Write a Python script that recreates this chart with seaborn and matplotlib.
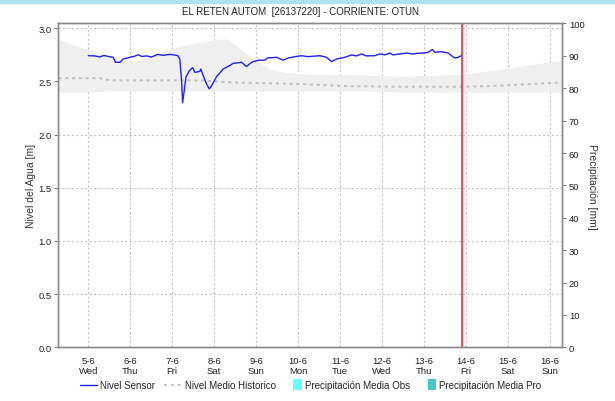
import matplotlib
matplotlib.use("Agg")
import matplotlib.pyplot as plt
from matplotlib.lines import Line2D
from matplotlib.patches import Patch, Rectangle
from matplotlib.legend_handler import HandlerPatch
import seaborn as sns
import pandas as pd

sns.set_theme(style="white")
plt.rcParams['font.family'] = ['Liberation Sans', 'DejaVu Sans']

# Reference instant: 5 June 2024, 00:00 (hours below are counted from here)
inicio = pd.Timestamp("2024-06-05 00:00")

# Nivel Sensor (m)
sensor_horas = [0, 3.8, 6.7, 9, 11.3, 14.3, 15.6, 18.1, 20, 23.8, 26.1, 28.6, 30.7,
                33.4, 36.3, 39.9, 42.7, 46.7, 49.6, 51.3, 52.4, 53.4, 54, 54.9, 55.9,
                57.8, 59.7, 61, 63.9, 64.4, 65.8, 67.7, 69.2, 70.6, 73.4, 77.2, 81,
                82.9, 87.7, 90.6, 93.4, 97.2, 101, 102.4, 107.7, 111.5, 114.4, 118.2,
                122, 125.6, 132.5, 136.3, 139.2, 142, 146.8, 150.6, 153.5, 156.3,
                159.2, 163.9, 166.8, 169.7, 172.5, 174.4, 178.2, 182.1, 185.8, 188.5,
                191.6, 194.4, 196.9, 198.3, 202.1, 205.9, 207.8, 209.7, 211.6, 213.7]
sensor_nivel = [2.742, 2.74, 2.73, 2.745, 2.735, 2.727, 2.68, 2.68, 2.71, 2.727, 2.735,
                2.75, 2.735, 2.74, 2.73, 2.755, 2.745, 2.755, 2.748, 2.742, 2.71, 2.507,
                2.30, 2.41, 2.54, 2.60, 2.63, 2.585, 2.595, 2.617, 2.554, 2.476, 2.43,
                2.46, 2.545, 2.617, 2.65, 2.67, 2.68, 2.64, 2.68, 2.70, 2.70, 2.72,
                2.727, 2.70, 2.72, 2.733, 2.742, 2.733, 2.742, 2.727, 2.686, 2.71,
                2.727, 2.749, 2.74, 2.758, 2.74, 2.742, 2.758, 2.75, 2.767, 2.75,
                2.758, 2.767, 2.758, 2.765, 2.767, 2.774, 2.80, 2.774, 2.78, 2.767,
                2.742, 2.72, 2.727, 2.745]

# Nivel Medio Historico (m)
hist_horas = [-17, 6.7, 12.4, 63.9, 82.7, 121, 149.6, 181, 213.7, 235, 258, 271]
hist_medio = [2.53, 2.53, 2.51, 2.51, 2.49, 2.476, 2.455, 2.45, 2.45, 2.46, 2.48, 2.49]

# Historical envelope (m)
banda_horas = [-17, -8, 0, 12, 21, 29, 46, 52, 64, 77, 80, 87, 94, 103, 112, 121,
               157, 180, 214, 238, 271]
banda_min = [2.40, 2.40, 2.40, 2.41, 2.41, 2.41, 2.41, 2.41, 2.41, 2.41, 2.41, 2.41,
             2.41, 2.41, 2.41, 2.41, 2.41, 2.40, 2.40, 2.40, 2.40]
banda_max = [2.90, 2.84, 2.80, 2.74, 2.68, 2.70, 2.80, 2.83, 2.87, 2.90, 2.90, 2.80,
             2.73, 2.62, 2.586, 2.57, 2.56, 2.55, 2.565, 2.62, 2.70]

# Daily precipitation (mm)
precip_dias = list(range(5, 17))
precip_obs = [0] * 12
precip_pro = [0] * 12

dias_mes = ["5-6", "6-6", "7-6", "8-6", "9-6", "10-6", "11-6", "12-6", "13-6",
            "14-6", "15-6", "16-6"]
dias_semana = ["Wed", "Thu", "Fri", "Sat", "Sun", "Mon", "Tue", "Wed", "Thu",
               "Fri", "Sat", "Sun"]
hora_actual = 213.7

def a_fecha(horas):
    return [inicio + pd.Timedelta(hours=h) for h in horas]

sensor = pd.DataFrame({"fecha": a_fecha(sensor_horas), "nivel": sensor_nivel})
historico = pd.DataFrame({"fecha": a_fecha(hist_horas), "nivel": hist_medio})
banda = pd.DataFrame({"fecha": a_fecha(banda_horas), "min": banda_min, "max": banda_max})

fig = plt.figure(figsize=(6.15, 4.02), dpi=100)
fig.patches.append(Rectangle((0, 1 - 3.5 / 402), 1, 3.5 / 402, transform=fig.transFigure,
                             color="#a9e4f0", zorder=0))
ax = fig.add_axes([0.0951, 0.1336, 0.8187, 0.8055])
ax2 = ax.twinx()

grid_kw = dict(color="#c4c4c4", linestyle=(0, (2, 2)), linewidth=0.8)
ax.set_axisbelow(True)
ax.grid(True, axis="both", **grid_kw)

ax.fill_between(banda["fecha"], banda["min"], banda["max"], color="#efefef",
                linewidth=0, zorder=1)
sns.lineplot(data=historico, x="fecha", y="nivel", ax=ax, color="#bdbdbd",
             linestyle=(0, (1.5, 2)), linewidth=1.4, zorder=2)
sns.lineplot(data=sensor, x="fecha", y="nivel", ax=ax, color="#1f1fff",
             linewidth=1.0, zorder=3)

ahora = inicio + pd.Timedelta(hours=hora_actual)
ax.axvline(ahora, color="#ff2a2a", linewidth=1.2, zorder=4)

fechas_precip = [pd.Timestamp(2024, 6, d, 12) for d in precip_dias]
ax2.bar(fechas_precip, precip_obs, width=0.4, color="#66ffff", linewidth=0)
ax2.bar(fechas_precip, precip_pro, width=0.4, color="#44c8c8", linewidth=0)

x0 = inicio + pd.Timedelta(hours=-17)
x1 = inicio + pd.Timedelta(hours=271)
ax.set_xlim(x0, x1)
ax.set_ylim(0, 3.045)
ax2.set_ylim(0, 100)

ax.set_yticks([0, 0.5, 1.0, 1.5, 2.0, 2.5, 3.0])
ax.set_yticklabels([f"{v:.1f}" for v in [0, 0.5, 1.0, 1.5, 2.0, 2.5, 3.0]])
ax2.set_yticks(range(0, 101, 10))

ticks = [pd.Timestamp(2024, 6, d) for d in precip_dias]
ax.set_xticks(ticks)
ax.set_xticklabels([f"{a}\n{b}" for a, b in zip(dias_mes, dias_semana)],
                   linespacing=1.25)

ax.set_xlabel("")
ax.set_ylabel("Nivel del Agua [m]", fontsize=7.5, color="#333333", labelpad=2)
ax2.set_ylabel("Precipitación [mm]", fontsize=7.5, color="#333333", rotation=270,
               labelpad=9)

ax.tick_params(axis="y", which="both", direction="out", length=3, width=0.8,
               color="#808080", labelsize=6.8, labelcolor="#222222", pad=2, left=True)
ax.tick_params(axis="x", length=0, labelsize=6.8, labelcolor="#222222", pad=6)
ax2.tick_params(axis="y", direction="out", length=3, width=0.8, color="#808080",
                labelsize=6.8, labelcolor="#222222", pad=2, right=True)

for a in (ax, ax2):
    for lado in ("left", "right", "top"):
        a.spines[lado].set_color("#8a8a8a")
        a.spines[lado].set_linewidth(1.0)
    a.spines["bottom"].set_color("#8a8a8a")
    a.spines["bottom"].set_linestyle((0, (1, 1)))
    a.spines["bottom"].set_linewidth(1.0)

fig.text(300 / 615, 1 - 12 / 402, "EL RETEN AUTOM  [26137220] - CORRIENTE: OTUN",
         fontsize=7, color="#222222", ha="center", va="center")


class HandlerBarra(HandlerPatch):
    def create_artists(self, legend, orig_handle, xdescent, ydescent, width, height,
                       fontsize, trans):
        r = Rectangle((width - 6 - xdescent, -ydescent - 1.5), 6, height + 3,
                      facecolor=orig_handle.get_facecolor(), edgecolor="none",
                      transform=trans)
        return [r]


handles = [
    Line2D([], [], color="#1f1fff", linewidth=1.0),
    Line2D([], [], color="#c8c8c8", linestyle=(0, (1.5, 2)), linewidth=1.4),
    Patch(facecolor="#66ffff"),
    Patch(facecolor="#44c8c8"),
]
labels = ["Nivel Sensor", "Nivel Medio Historico", "Precipitación Media Obs",
          "Precipitación Media Pro"]
fig.legend(handles, labels, loc="center", bbox_to_anchor=(0.505, 0.04), ncol=4,
           frameon=False, fontsize=7.0, handlelength=1.8, handletextpad=0.3,
           columnspacing=0.9, handler_map={Patch: HandlerBarra()})

fig.savefig("out.png", dpi=100)
